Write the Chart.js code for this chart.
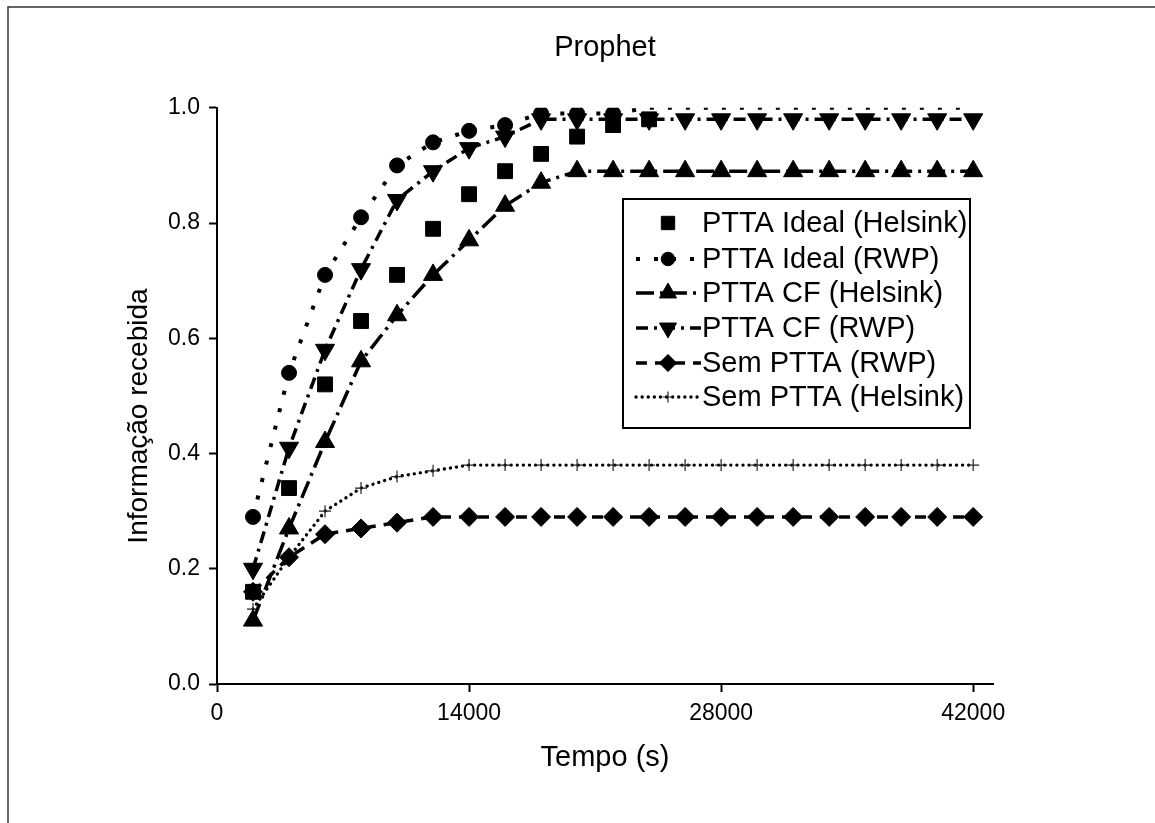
<!DOCTYPE html>
<html lang="pt">
<head>
  <meta charset="UTF-8">
  <title>Prophet</title>
  <script src="https://cdn.jsdelivr.net/npm/chart.js"></script>
  <style>
    body { margin: 0; background: white; }
    canvas { display: block; }
  </style>
</head>
<body>

<canvas id="graficoProphet" width="1155" height="823"></canvas>

<script>
  const tempo = [2000, 4000, 6000, 8000, 10000, 12000, 14000, 16000, 18000, 20000, 22000,
    24000, 26000, 28000, 30000, 32000, 34000, 36000, 38000, 40000, 42000];

  // depois de 24000 os quadrados ficam escondidos no original
  const idealHelsink = [0.16, 0.34, 0.52, 0.63, 0.71, 0.79, 0.85, 0.89, 0.92, 0.95, 0.97,
    0.98, null, null, null, null, null, null, null, null, null];
  const idealRWP = [0.29, 0.54, 0.71, 0.81, 0.90, 0.94, 0.96, 0.97, 0.99, 0.99, 0.99,
    1.0, 1.0, 1.0, 1.0, 1.0, 1.0, 1.0, 1.0, 1.0, 1.0];
  const cfHelsink = [0.11, 0.27, 0.42, 0.56, 0.64, 0.71, 0.77, 0.83, 0.87, 0.89, 0.89,
    0.89, 0.89, 0.89, 0.89, 0.89, 0.89, 0.89, 0.89, 0.89, 0.89];
  const cfRWP = [0.20, 0.41, 0.58, 0.72, 0.84, 0.89, 0.93, 0.95, 0.98, 0.98, 0.98,
    0.98, 0.98, 0.98, 0.98, 0.98, 0.98, 0.98, 0.98, 0.98, 0.98];
  const semRWP = [0.16, 0.22, 0.26, 0.27, 0.28, 0.29, 0.29, 0.29, 0.29, 0.29, 0.29,
    0.29, 0.29, 0.29, 0.29, 0.29, 0.29, 0.29, 0.29, 0.29, 0.29];
  const semHelsink = [0.13, 0.22, 0.30, 0.34, 0.36, 0.37, 0.38, 0.38, 0.38, 0.38, 0.38,
    0.38, 0.38, 0.38, 0.38, 0.38, 0.38, 0.38, 0.38, 0.38, 0.38];

  const ticksX = [0, 14000, 28000, 42000];
  const ticksY = [0.0, 0.2, 0.4, 0.6, 0.8, 1.0];

  const pontos = (valores) => tempo.map((t, i) => ({ x: t, y: valores[i] }));
  const fonte = "'Liberation Sans', Arial, sans-serif";

  const datasets = [
    {
      label: "PTTA Ideal (Helsink)",
      data: pontos(idealHelsink),
      showLine: false,
      pointStyle: "rect", pointRadius: 10.5, order: 3
    },
    {
      label: "PTTA Ideal (RWP)",
      data: pontos(idealRWP),
      borderDash: [4, 14], borderWidth: 4,
      pointStyle: "circle",
      // os círculos acima de 22000 não aparecem no original
      pointRadius: tempo.map(t => t <= 22000 ? 7.5 : 0), order: 1
    },
    {
      label: "PTTA CF (Helsink)",
      data: pontos(cfHelsink),
      borderDash: [18, 6, 3, 6], borderWidth: 3.5,
      pointStyle: "triangle", pointRadius: 11, order: 2
    },
    {
      label: "PTTA CF (RWP)",
      data: pontos(cfRWP),
      borderDash: [12, 6, 3, 6], borderWidth: 3.5,
      pointStyle: "triangle", pointRotation: 180, pointRadius: 11, order: 0
    },
    {
      label: "Sem PTTA (RWP)",
      data: pontos(semRWP),
      borderDash: [11, 8], borderWidth: 3.5,
      pointStyle: "rectRot", pointRadius: 9.5, order: 4
    },
    {
      label: "Sem PTTA (Helsink)",
      data: pontos(semHelsink),
      borderDash: [0.1, 6], borderWidth: 3.3, borderCapStyle: "round",
      pointStyle: "cross", pointRadius: 6, pointBorderWidth: 1.2,
      pointBorderColor: "#222", order: 5
    }
  ];

  datasets.forEach(d => {
    d.borderColor = d.borderColor || "black";
    d.backgroundColor = "black";
    d.pointBackgroundColor = "black";
    d.pointBorderColor = d.pointBorderColor || "black";
    d.pointBorderWidth = d.pointBorderWidth || 1;
    d.borderWidth = d.borderWidth || 3;
    d.clip = 0;
  });

  // moldura parcial da figura (topo e esquerda) + título do eixo y
  const moldura = {
    id: "moldura",
    beforeDraw(chart) {
      const ctx = chart.ctx;
      ctx.save();
      ctx.fillStyle = "white";
      ctx.fillRect(0, 0, chart.width, chart.height);
      ctx.strokeStyle = "#333";
      ctx.lineWidth = 1.5;
      ctx.beginPath();
      ctx.moveTo(8, chart.height);
      ctx.lineTo(8, 7);
      ctx.lineTo(chart.width, 7);
      ctx.stroke();

      ctx.translate(139, 416);
      ctx.rotate(-Math.PI / 2);
      ctx.fillStyle = "black";
      ctx.font = "28px " + fonte;
      ctx.textAlign = "center";
      ctx.textBaseline = "middle";
      ctx.fillText("Informação recebida", 0, 0);
      ctx.restore();
    }
  };

  const legenda = {
    id: "legenda",
    afterDraw(chart) {
      const ctx = chart.ctx;
      const caixa = { x: 623, y: 199, w: 347, h: 229 };
      const linhaY = [223, 259, 293, 328, 363, 397];
      ctx.save();
      ctx.fillStyle = "white";
      ctx.fillRect(caixa.x, caixa.y, caixa.w, caixa.h);
      ctx.strokeStyle = "black";
      ctx.lineWidth = 2;
      ctx.strokeRect(caixa.x, caixa.y, caixa.w, caixa.h);

      chart.data.datasets.forEach((d, i) => {
        const y = linhaY[i];
        if (d.showLine !== false) {
          ctx.save();
          ctx.strokeStyle = d.borderColor;
          ctx.lineWidth = d.borderWidth;
          ctx.lineCap = d.borderCapStyle || "butt";
          ctx.setLineDash(d.borderDash || []);
          ctx.beginPath();
          ctx.moveTo(636, y);
          ctx.lineTo(701, y);
          ctx.stroke();
          ctx.restore();
        }
        ctx.save();
        ctx.fillStyle = "black";
        ctx.strokeStyle = d.pointBorderColor;
        ctx.lineWidth = d.pointBorderWidth;
        ctx.setLineDash([]);
        const r = Array.isArray(d.pointRadius) ? d.pointRadius[0] : d.pointRadius;
        Chart.helpers.drawPoint(ctx, {
          pointStyle: d.pointStyle,
          rotation: d.pointRotation || 0,
          radius: r * 0.9,
          borderWidth: d.pointBorderWidth
        }, 668, y);
        ctx.restore();

        ctx.fillStyle = "black";
        ctx.font = "29px " + fonte;
        ctx.textBaseline = "middle";
        ctx.textAlign = "left";
        ctx.fillText(d.label, 702, y + 1);
      });
      ctx.restore();
    }
  };

  new Chart(document.getElementById("graficoProphet"), {
    type: "line",
    data: { datasets: datasets },
    plugins: [moldura, legenda],
    options: {
      responsive: false,
      animation: false,
      spanGaps: false,
      layout: { padding: { left: 0, right: 162, top: 0, bottom: 0 } },
      plugins: {
        legend: { display: false },
        tooltip: { enabled: false },
        title: {
          display: true,
          text: "Prophet",
          fullSize: false,
          color: "black",
          font: { family: fonte, size: 29, weight: "normal" },
          padding: { top: 31, bottom: 42 }
        }
      },
      scales: {
        x: {
          type: "linear",
          min: 0,
          max: 43100,
          afterBuildTicks: (scale) => { scale.ticks = ticksX.map(v => ({ value: v })); },
          afterFit: (scale) => { scale.height = 139; },
          ticks: {
            color: "black",
            padding: 8,
            font: { family: fonte, size: 23 },
            callback: (v) => String(v)
          },
          grid: { drawOnChartArea: false, tickLength: 8, tickWidth: 2, tickColor: "black" },
          border: { color: "black", width: 2 },
          title: {
            display: true,
            text: "Tempo (s)",
            color: "black",
            font: { family: fonte, size: 29 },
            padding: { top: 0, bottom: 48 }
          }
        },
        y: {
          min: 0,
          max: 1,
          afterBuildTicks: (scale) => { scale.ticks = ticksY.map(v => ({ value: v })); },
          afterFit: (scale) => { scale.width = 217; },
          ticks: {
            color: "black",
            padding: 9,
            font: { family: fonte, size: 23 },
            callback: (v) => Number(v).toFixed(1)
          },
          grid: { drawOnChartArea: false, tickLength: 8, tickWidth: 2, tickColor: "black" },
          border: { color: "black", width: 2 },
          title: { display: false }
        }
      }
    }
  });
</script>

</body>
</html>
